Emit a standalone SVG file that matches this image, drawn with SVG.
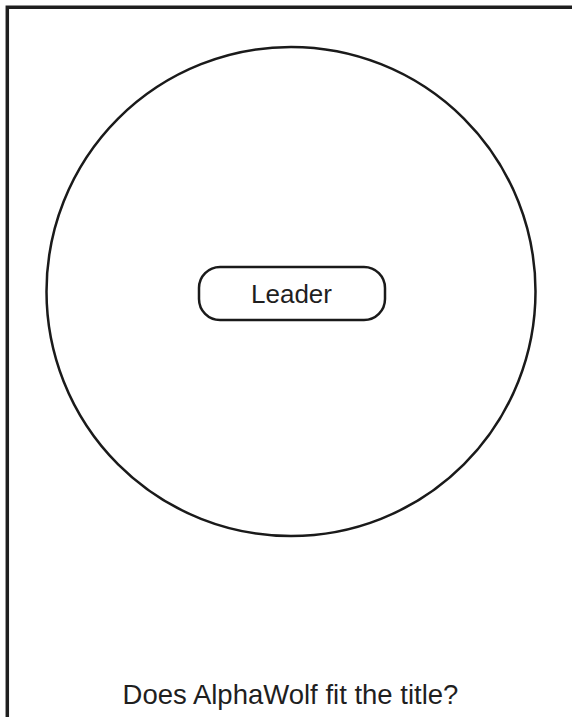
<svg xmlns="http://www.w3.org/2000/svg" width="572" height="717" viewBox="0 0 572 717">
<style>
.frame{fill:none;stroke:#1f1f1f;stroke-width:3.5}
.shape{fill:#ffffff;stroke:#1a1a1a;stroke-width:2.5}
.lbl{font-family:"Liberation Sans",Arial,sans-serif;fill:#1f1f1f;text-anchor:middle}
</style>
<rect width="572" height="717" fill="#ffffff"/>
<g id="frame">
<path class="frame" d="M7.3,717 V7.3 H572"/>
</g>
<g id="circle">
<circle class="shape" cx="291" cy="291.5" r="244.5"/>
</g>
<g id="connectors"></g>
<g id="leader">
<rect class="shape" x="199" y="267" width="186" height="53" rx="21" ry="21"/>
<text class="lbl" x="291.5" y="302.5" font-size="26">Leader</text>
</g>
<g id="title">
<text class="lbl" x="290.5" y="703.5" font-size="27.5">Does AlphaWolf fit the title?</text>
</g>
</svg>
